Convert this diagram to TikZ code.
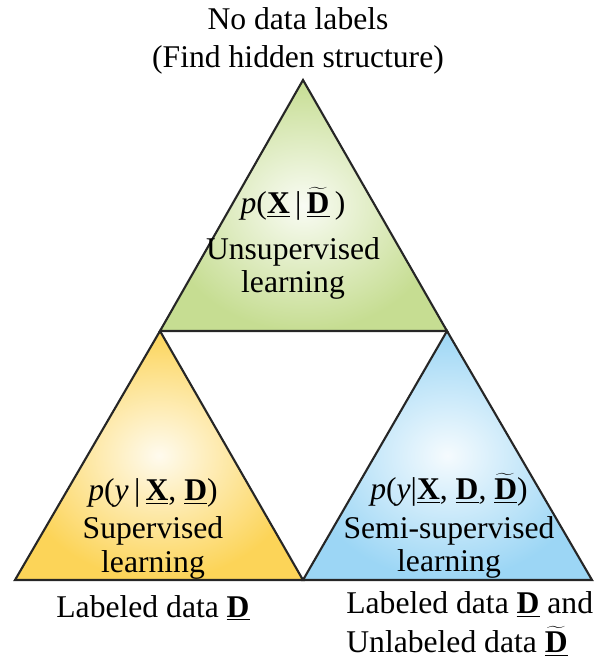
\documentclass[tikz,border=0pt]{standalone}
\usepackage{fontspec}
\setmainfont{Liberation Serif}
\usepackage{tikz}
\usetikzlibrary{positioning}
\definecolor{unsGreen}{RGB}{198,221,146}
\definecolor{supYellow}{RGB}{252,212,88}
\definecolor{semiBlue}{RGB}{156,214,245}
\newcommand{\bX}{\underline{\textbf{X}}}
\newcommand{\bD}{\underline{\textbf{D}}}
\newcommand{\tD}{\underline{$\widetilde{\hbox{\textbf{D}}}$}}

\begin{document}
\begin{tikzpicture}[
    x=0.02cm,y=-0.02cm,
    tri/.style={draw=black!85,line width=1.2pt,line join=miter},
    txt/.style={align=center,inner sep=0pt,font=\fontsize{18}{19}\selectfont}
  ]
    \useasboundingbox (0,0) rectangle (598,661);
    % corners of the three triangles
    \coordinate (apex) at (303,80);
    \coordinate (ml) at (160,331);
    \coordinate (mr) at (447,331);
    \coordinate (bl) at (15,580);
    \coordinate (bm) at (303,580);
    \coordinate (br) at (592,580);
    \path[tri,inner color=unsGreen!10,outer color=unsGreen] (apex) -- (ml) -- (mr) -- cycle;
    \path[tri,inner color=supYellow!10,outer color=supYellow] (ml) -- (bl) -- (bm) -- cycle;
    \path[tri,inner color=semiBlue!10,outer color=semiBlue] (mr) -- (bm) -- (br) -- cycle;
    % labels
    \node[txt,font=\fontsize{18}{22}\selectfont] (head) at (298,41) {No data labels\\(Find hidden structure)};
    \node[txt] (pU) at (293,204) {\textit{p}(\bX\,|\,\tD\,)};
    \node[txt,below=9pt of pU] (lU) {Unsupervised\\learning};
    \node[txt] (pS) at (153,493) {\textit{p}(\textit{y}\,|\,\bX, \bD)};
    \node[txt,below=5pt of pS] (lS) {Supervised\\learning};
    \node[txt] (pSS) at (449,490) {\textit{p}(\textit{y}|\bX, \bD, \tD)};
    \node[txt,below=5pt of pSS] (lSS) {Semi-supervised\\learning};
    \node[txt] (dS) at (153,608) {Labeled data \bD};
    \node[txt,align=left,anchor=west,font=\fontsize{18}{22}\selectfont] (dSS) at (346,624) {Labeled data \bD\ and\\Unlabeled data \tD};
  \end{tikzpicture}
\end{document}
